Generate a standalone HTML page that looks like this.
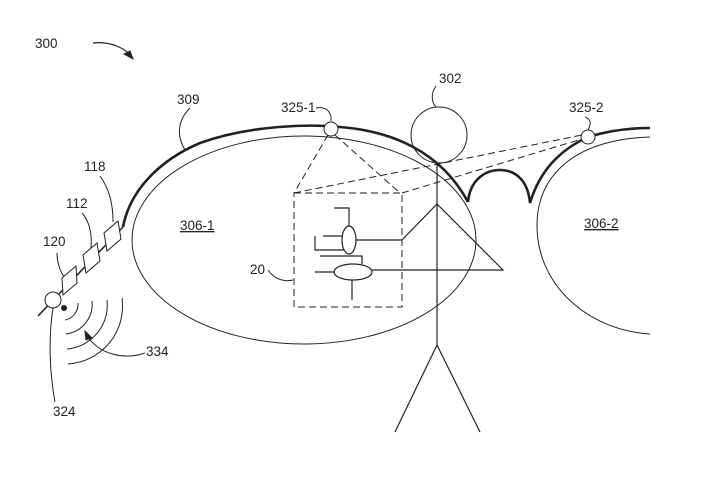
<!DOCTYPE html>
<html><head><style>body{margin:0;background:#fff}svg{display:block}text{font-family:"Liberation Sans",sans-serif;font-size:13.5px;fill:#222}</style></head><body>
<svg width="718" height="499" viewBox="0 0 718 499" xmlns="http://www.w3.org/2000/svg" fill="none" stroke="#222">
<text x="35" y="48" stroke="none">300</text>
<path d="M93,43 C110,41 125,48 132,57" stroke-width="1.2"/><path d="M133,59 L124,54 L130,51Z" fill="#222"/>
<text x="177" y="104" stroke="none">309</text>
<path d="M185,150 C176,135 178,120 190,108"/>
<text x="281" y="112" stroke="none">325-1</text>
<path d="M316,108 C326,106 332,112 331,121"/>
<text x="439" y="83" stroke="none">302</text>
<path d="M436,86 C431,93 431,102 436,107"/>
<text x="569" y="112" stroke="none">325-2</text>
<path d="M585,117 C593,120 590,126 588,130"/>
<text x="84" y="171" stroke="none">118</text>
<path d="M100,176 C110,190 113,205 113,222"/>
<text x="66" y="208" stroke="none">112</text>
<path d="M82,213 C90,222 92,235 91,248"/>
<text x="43" y="246" stroke="none">120</text>
<path d="M57,253 C57,262 60,272 65,278"/>
<text x="180" y="230" stroke="none" text-decoration="underline">306-1</text>
<text x="584" y="228" stroke="none" text-decoration="underline">306-2</text>
<text x="250" y="274" stroke="none">20</text>
<path d="M268,270 C275,280 285,282 293,280"/>
<text x="146" y="356" stroke="none">334</text>
<path d="M145,353 C125,360 100,355 87,336"/><path d="M85,331 L92,338 L86,340Z" fill="#222"/>
<text x="53" y="416" stroke="none">324</text>
<path d="M53,308 C48,340 50,375 55,402"/>
<ellipse cx="304" cy="240" rx="172" ry="104" stroke-width="1"/>
<path d="M650,137 C570,140 530,180 538,240 C545,290 590,330 650,334" stroke-width="1"/>
<path d="M123,227 C130,190 160,160 200,143 C250,125 310,124 340,127 C390,131 440,150 468,202" stroke-width="2.6"/>
<path d="M468,202 C470,180 485,170 500,170 C515,170 528,180 530,203" stroke-width="2.6"/>
<path d="M530,203 C540,170 560,150 588,137 C610,130 630,128 650,128" stroke-width="2.6"/>
<path d="M123,227 L38,316" stroke-width="1.6"/>
<g fill="#fff" stroke-width="1">
<path d="M104,233 L118,221 L121,239 L107,251Z"/>
<path d="M83,255 L97,243 L100,261 L86,273Z"/>
<path d="M62,278 L76,266 L77,283 L63,295Z"/>
<circle cx="53" cy="300" r="8"/>
<circle cx="331" cy="129" r="7"/>
<circle cx="588" cy="137" r="7"/>
</g>
<circle cx="64" cy="308" r="3" fill="#222" stroke="none"/>
<g stroke-width="1">
<path d="M78,303 A16,16 0 0 1 65,320"/>
<path d="M92,301 A30,30 0 0 1 66,334"/>
<path d="M107,300 A44,44 0 0 1 67,349"/>
<path d="M122,298 A58,58 0 0 1 68,364"/>
</g>
<g stroke-dasharray="7,4" stroke-width="1">
<rect x="294" y="193" width="108" height="114"/>
<path d="M328,135 L294,193 M335,135 L400,193 M294,193 L582,135 M402,193 L582,139"/>
</g>
<circle cx="439" cy="135" r="28" stroke-width="1"/>
<path d="M437,163 L437,345 L395,432 M437,345 L480,432" stroke-width="1.2"/>
<path d="M402,240 L437,204 L503,270 L372,270" stroke-width="1.2"/>
<path d="M356,240 L402,240" stroke-width="1.2"/>
<ellipse cx="349" cy="240" rx="7" ry="14" stroke-width="1.2"/>
<ellipse cx="353" cy="272" rx="19" ry="8" stroke-width="1.2"/>
<path d="M334,208 L349,208 L349,226 M323,236 L343,236 M315,236 L315,250 L344,250 M320,256 L362,256 L362,264 M315,272 L334,272 M352,280 L352,300" stroke-width="1.2"/>
</svg>
</body></html>
